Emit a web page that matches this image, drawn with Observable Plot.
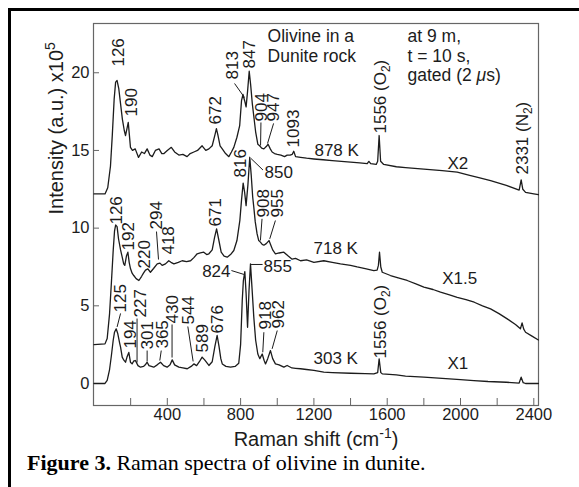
<!DOCTYPE html>
<html><head><meta charset="utf-8">
<script src="https://cdn.jsdelivr.net/npm/d3@7"></script>
<script src="https://cdn.jsdelivr.net/npm/@observablehq/plot@0.6"></script>
<style>
html,body{margin:0;padding:0;background:#fff;}
#box{position:absolute;left:8px;top:8px;width:571px;height:479px;border-top:3px solid #000;border-left:3px solid #000;box-sizing:border-box;}
#chart{position:absolute;left:11px;top:11px;}
#caption{position:absolute;left:27px;top:450px;font-family:"Liberation Serif","Times New Roman",serif;font-size:22px;color:#000;white-space:nowrap;}
</style></head><body>
<div id="box"></div>
<div id="chart"></div>
<div id="caption"><b>Figure 3.</b> Raman spectra of olivine in dunite.</div>
<script>
// ---- spectra (Raman shift cm-1, displayed intensity a.u. x1e5) ----
const shift878 = [0,60,75,90,100,110,118,126,135,145,155,165,172,180,187,193,199,210,225,243,260,275,290,305,318,335,355,370,382,400,422,440,463,485,508,525,545,565,590,610,627,645,660,668,676,688,700,718,736,750,763,780,795,805,813,822,830,838,847,855,864,872,882,894,904,915,927,940,950,962,972,985,1000,1020,1040,1054,1070,1082,1090,1100,1127,1160,1200,1250,1300,1350,1400,1450,1491,1500,1510,1540,1548,1556,1564,1581,1650,1700,1800,1900,1982,2050,2100,2164,2250,2320,2331,2340,2355,2400,2425];
const int878 = [12.2,12.2,12.6,14.0,16.0,18.3,19.4,19.5,19.0,18.0,17.0,16.3,15.95,16.4,16.8,16.0,15.2,15.0,15.1,14.55,14.9,14.8,15.1,14.7,14.6,15.0,15.1,14.8,14.8,15.0,15.2,14.9,14.7,14.75,14.6,14.8,14.9,15.0,15.3,15.0,15.1,15.3,16.0,16.4,16.0,15.3,15.1,14.8,14.6,14.9,15.2,15.85,16.6,18.2,18.6,18.2,17.8,18.8,20.1,19.2,18.0,17.2,16.2,15.4,15.3,15.15,15.1,15.25,15.4,15.1,14.9,14.8,14.75,14.7,14.6,14.7,14.7,14.75,14.95,14.6,14.56,14.5,14.45,14.4,14.35,14.3,14.25,14.2,14.15,14.3,14.15,14.1,14.3,15.96,14.3,14.1,13.95,13.9,13.8,13.7,13.6,13.4,13.25,13.06,12.75,12.45,13.1,12.5,12.3,12.2,12.15];

const shift718 = [0,60,72,85,95,105,112,118,126,134,145,154,162,168,177,185,192,199,208,217,230,245,260,270,281,294,308,325,345,360,372,390,408,420,436,460,481,505,527,545,563,580,599,615,627,645,658,669,680,694,710,727,745,763,780,796,805,814,822,830,840,850,858,866,872,880,890,899,908,918,927,940,955,965,975,990,1010,1036,1060,1081,1100,1127,1160,1200,1254,1300,1345,1400,1436,1480,1527,1545,1552,1558,1565,1573,1618,1660,1709,1760,1800,1850,1891,1940,1982,2030,2075,2120,2164,2210,2255,2300,2327,2336,2345,2355,2390,2425];
const int718 = [2.5,2.55,2.9,4.5,6.5,8.6,9.8,10.2,10.1,9.3,8.6,8.13,7.7,7.6,8.2,8.45,7.8,7.4,7.1,6.95,6.75,6.63,6.9,7.1,7.3,7.38,7.16,7.4,7.7,7.75,7.6,7.7,7.9,7.8,7.7,7.8,7.9,7.85,7.9,8.1,8.35,8.4,8.45,8.3,8.35,8.6,9.4,9.95,9.3,8.45,8.2,8.13,8.3,8.56,9.2,10.5,11.8,12.9,12.3,11.45,12.8,14.56,13.4,12.0,11.35,10.4,9.63,9.2,9.1,8.95,8.9,9.0,9.2,8.9,8.6,8.35,8.4,8.45,8.2,8.0,8.05,7.9,7.95,7.8,7.9,7.8,7.7,7.6,7.5,7.4,7.27,7.3,7.6,8.45,7.5,7.16,6.95,6.8,6.63,6.4,6.2,6.05,5.88,5.7,5.55,5.4,5.23,5.0,4.8,4.5,4.16,3.8,3.52,3.9,3.5,3.3,3.05,2.8];

const shift303 = [0,60,72,85,95,105,112,121,130,140,145,154,163,172,180,190,199,208,217,226,240,254,270,280,290,300,326,345,363,380,399,415,427,440,463,485,509,530,545,560,575,590,605,627,645,660,672,682,692,700,720,745,770,790,800,809,815,823,830,838,846,854,862,872,882,894,905,918,928,936,948,963,975,990,1010,1036,1054,1080,1100,1127,1160,1200,1254,1300,1400,1480,1527,1548,1556,1565,1573,1650,1700,1800,1900,2000,2073,2150,2250,2320,2331,2342,2355,2425];
const int303 = [0,0,0.2,0.9,1.8,2.8,3.3,3.52,3.2,2.6,2.34,1.7,1.5,1.37,1.7,2.0,1.37,1.26,1.45,1.48,1.15,1.05,1.1,1.2,1.37,1.15,1.05,1.2,1.37,1.15,1.05,1.2,1.52,1.2,1.05,1.0,0.95,1.1,1.26,1.15,1.4,1.7,1.5,1.16,1.4,2.4,3.09,2.4,1.6,1.26,1.1,1.05,1.1,1.3,2.5,5.34,6.6,7.2,5.8,3.62,6.0,7.7,6.2,4.27,2.8,1.9,1.6,1.9,1.5,1.26,1.6,2.12,1.6,1.26,1.2,1.05,1.16,1.0,0.98,0.95,0.9,0.84,0.73,0.7,0.66,0.63,0.62,0.7,1.59,0.7,0.62,0.55,0.48,0.41,0.33,0.25,0.19,0.13,0.08,0.03,0.41,0.05,0,0];

// ---- axes ----
const xTicks = [200,400,600,800,1000,1200,1400,1600,1800,2000,2200,2400];
const xTickLabels = [400,800,1200,1600,2000,2400];
const yTicks = [0,5,10,15,20];

// ---- vertical peak labels: text, anchor shift, anchor intensity ----
const vText = ["126","190","672","813","847","904","947","1093","1556 (O_{2})","2331 (N_{2})",
  "126","192","220","294","418","671","816","908","955",
  "125","194","227","301","365","430","544","589","676","918","962","1556 (O_{2})"];
const vX = [135,205,663,757,850,912,981,1087,1563,2337,
  123,190,276,341,408,663,802,927,1000,
  145,199,254,290,372,427,517,590,672,936,1008,1563];
const vY = [20.4,17.19,16.67,19.57,20.28,16.87,16.87,15.19,16.09,13.45,
  10.23,8.56,7.40,9.91,8.30,10.11,13.26,10.69,10.69,
  4.57,2.25,4.25,2.19,2.25,3.86,3.80,2.0,3.22,3.48,3.54,1.61];

// ---- horizontal labels ----
const hText = ["850","855","878 K","718 K","303 K","X2","X1.5","X1"];
const hX = [931,925,1203,1198,1198,1929,1900,1929];
const hY = [13.58,7.53,15.0,8.69,1.61,14.16,6.76,1.29];
const endText = ["824"];
const endX = [745];
const endY = [7.21];

// ---- notes ----
const noteText = ["Olivine in a","Dunite rock","at 9 m,","t = 10 s,","gated (2 μs)"];
const noteX = [947,947,1711,1711,1711];
const noteY = [22.33,21.07,22.33,21.07,19.81];

// ---- leader lines ----
const leadX1 = [767,911,980,341,857,917,990,145,235,290,367,426,512,927,1000,750,857];
const leadY1 = [19.31,16.8,16.74,9.78,14.48,10.6,10.49,4.51,4.18,2.12,2.12,3.80,3.67,3.30,3.41,7.27,7.66];
const leadX2 = [821,909,947,352,922,908,959,126,235,290,359,426,541,921,972,818,920];
const leadY2 = [18.41,15.32,15.45,7.98,13.74,9.2,9.31,3.64,1.35,1.42,1.48,1.67,1.42,2.01,2.23,7.02,7.66];

const toRows = (xs, ys, name) => xs.map((x, i) => ({x, y: ys[i], name}));
const spectra = [toRows(shift878,int878,"878 K"), toRows(shift718,int718,"718 K"), toRows(shift303,int303,"303 K")];
const vRows = vText.map((t,i)=>({t, x:vX[i], y:vY[i]}));
const hRows = hText.map((t,i)=>({t, x:hX[i], y:hY[i]}));
const eRows = endText.map((t,i)=>({t, x:endX[i], y:endY[i]}));
const nRows = noteText.map((t,i)=>({t, x:noteX[i], y:noteY[i]}));
const lRows = leadX1.map((x1,i)=>({x1, y1:leadY1[i], x2:leadX2[i], y2:leadY2[i]}));

const INK = "#1c1c1c";
const H = 439;
const svg = Plot.plot({
  width: 568, height: H,
  marginLeft: 82, marginRight: 41, marginTop: 12, marginBottom: H - 394,
  x: {domain: [-2.7, 2425.6]},
  y: {domain: [-1.416, 23.17]},
  style: {fontFamily: '"Liberation Sans", Arial, Helvetica, sans-serif', fontSize: "16px", color: INK, background: "white", overflow: "visible"},
  marks: [
    Plot.frame({stroke: "#666", strokeWidth: 1.2}),
    Plot.axisX(xTicks, {tickSize: -7, stroke: "#666", tickFormat: () => "", label: null}),
    Plot.axisX(xTickLabels, {tickSize: 0, tickPadding: 3, label: null, fontSize: 16.5, tickFormat: d => String(d)}),
    Plot.axisY(yTicks, {tickSize: -6, stroke: "#666", tickFormat: () => "", label: null}),
    Plot.axisY(yTicks, {tickSize: 0, tickPadding: 4, label: null, fontSize: 16.5, tickFormat: d => String(d)}),
    ...spectra.map(s => Plot.line(s, {x: "x", y: "y", stroke: INK, strokeWidth: 1.3})),
    Plot.link(lRows, {x1: "x1", y1: "y1", x2: "x2", y2: "y2", stroke: INK, strokeWidth: 1}),
    Plot.text(vRows, {x: "x", y: "y", text: "t", rotate: -90, textAnchor: "start", lineAnchor: "middle", fontSize: 17, fill: INK}),
    Plot.text(hRows, {x: "x", y: "y", text: "t", textAnchor: "start", lineAnchor: "middle", fontSize: 17, fill: INK}),
    Plot.text(eRows, {x: "x", y: "y", text: "t", textAnchor: "end", lineAnchor: "middle", fontSize: 17, fill: INK}),
    Plot.text(nRows, {x: "x", y: "y", text: "t", textAnchor: "start", lineAnchor: "middle", fontSize: 17.5, fill: INK}),
    Plot.text(["Raman shift (cm^{-1})"], {frameAnchor: "bottom", dy: 34, lineAnchor: "middle", fontSize: 20, fill: INK}),
    Plot.text(["Intensity (a.u.) x10^{5}"], {frameAnchor: "left", dx: -37, rotate: -90, lineAnchor: "middle", fontSize: 20, fill: INK})
  ]
});
document.getElementById("chart").appendChild(svg);

// rich text: subscripts, superscripts, italic mu
d3.select(svg).selectAll("text").each(function() {
  const t = this;
  const s = t.textContent;
  if (!/[_^]\{|μ/.test(s)) return;
  const base = parseFloat(getComputedStyle(t).fontSize) || 16;
  const parts = s.split(/(_\{[^}]*\}|\^\{[^}]*\}|μ)/).filter(p => p !== "");
  while (t.firstChild) t.removeChild(t.firstChild);
  let shift = 0;
  for (const p of parts) {
    const ts = document.createElementNS("http://www.w3.org/2000/svg", "tspan");
    let target = 0;
    if (p.startsWith("_{")) { ts.textContent = p.slice(2, -1); ts.setAttribute("font-size", (base*0.7)+"px"); target = base*0.25; }
    else if (p.startsWith("^{")) { ts.textContent = p.slice(2, -1); ts.setAttribute("font-size", (base*0.7)+"px"); target = -base*0.4; }
    else if (p === "μ") { ts.textContent = p; ts.setAttribute("font-style", "italic"); }
    else ts.textContent = p;
    const d = target - shift;
    if (d) ts.setAttribute("dy", d + "px");
    shift = target;
    t.appendChild(ts);
  }
});
</script></body></html>
